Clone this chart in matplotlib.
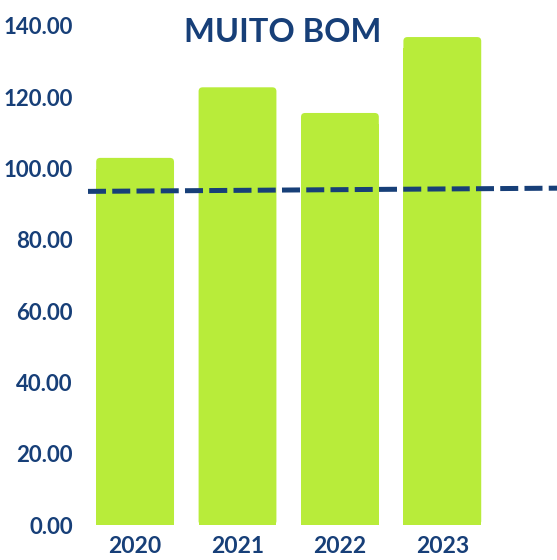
import matplotlib
matplotlib.use("Agg")
import matplotlib.pyplot as plt
from matplotlib.patches import FancyBboxPatch, Rectangle
import numpy as np

# data
years = ["2020", "2021", "2022", "2023"]
values = [103.0, 122.8, 115.6, 136.9]
ref_x = [-0.46, 4.12]
ref_line = [93.6, 94.5]
yticks = [0, 20, 40, 60, 80, 100, 120, 140]

navy = "#173f78"
lime = "#b8ec3a"

plt.rcParams['font.family'] = ['Lato', 'DejaVu Sans']

fig = plt.figure(figsize=(5.57, 5.60), dpi=100)
ax = fig.add_axes([88 / 557, 1 - 525 / 560, (557 - 88) / 557, (525 - 26) / 560])

x = np.arange(len(years))
bars = ax.bar(x, values, width=0.76, color=lime, zorder=1)

# round the top corners a little
for b in bars:
    bx, by, bw, bh = b.get_x(), b.get_y(), b.get_width(), b.get_height()
    b.set_visible(False)
    ax.add_patch(FancyBboxPatch((bx, by), bw, bh,
                                boxstyle="round,pad=0,rounding_size=0.04",
                                mutation_aspect=28, color=lime, lw=0, zorder=1))
    ax.add_patch(Rectangle((bx, by), bw, bh - 3, color=lime, lw=0, zorder=1))

ax.plot(ref_x, ref_line, color=navy, linewidth=3.6, dashes=(3.6, 1.25),
        solid_capstyle='butt', dash_capstyle='butt', zorder=2, clip_on=False)

ax.set_xlim(ref_x[0], ref_x[1])
ax.set_ylim(0, 140)
ax.set_xticks(x)
ax.set_xticklabels(years)
ax.set_yticks(yticks)
ax.set_yticklabels([f"{v:.2f}" for v in yticks])

ax.tick_params(axis='both', length=0, colors=navy)
ax.tick_params(axis='y', pad=11, labelsize=16)
ax.tick_params(axis='x', pad=8, labelsize=16.5)
for lab in ax.get_xticklabels() + ax.get_yticklabels():
    lab.set_fontweight('bold')

for s in ax.spines.values():
    s.set_visible(False)

fig.text(283 / 557, 1 - 32 / 560, "MUITO BOM", color=navy, fontsize=23.5,
         fontweight='bold', ha='center', va='center')

fig.savefig("out.png", dpi=100)
